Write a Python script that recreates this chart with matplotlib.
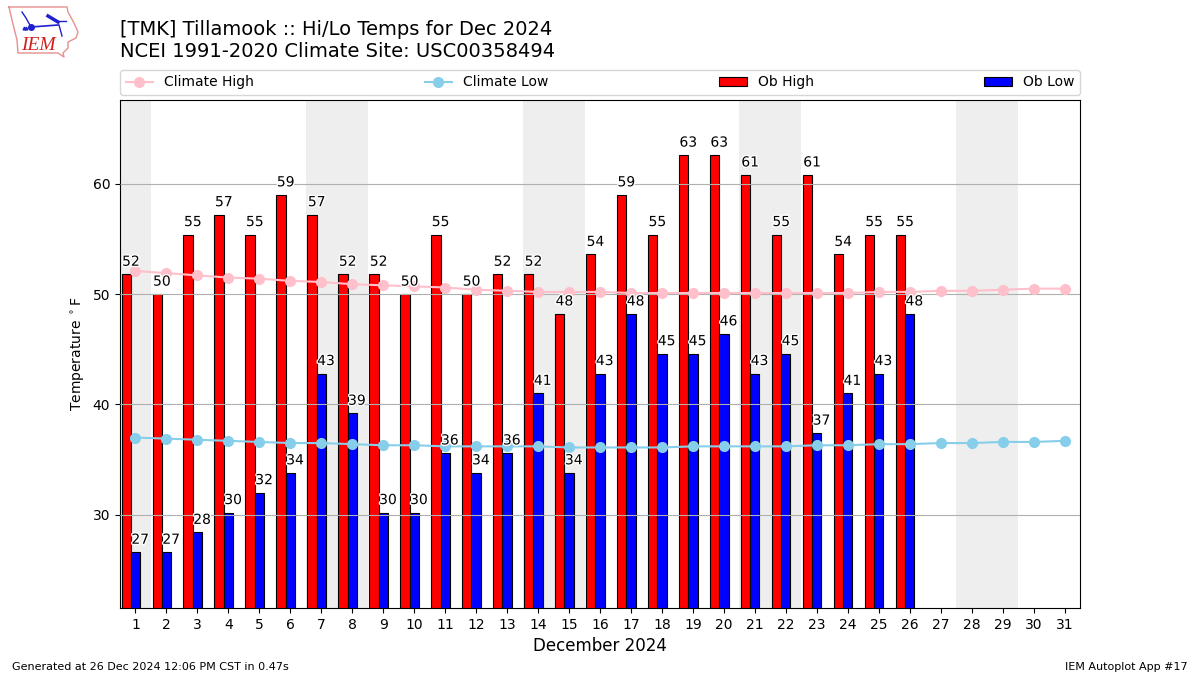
import matplotlib
matplotlib.use('Agg')
import matplotlib.pyplot as plt
import matplotlib.patheffects as pe
import numpy as np

days = np.arange(1, 32)
ob_days = np.arange(1, 27)

climate_high = [52.1, 51.9, 51.7, 51.5, 51.4, 51.2, 51.1, 50.9, 50.8, 50.7, 50.6,
                50.4, 50.3, 50.2, 50.2, 50.2, 50.1, 50.1, 50.1, 50.1, 50.1, 50.1,
                50.1, 50.1, 50.2, 50.2, 50.3, 50.3, 50.4, 50.5, 50.5]
climate_low = [37.0, 36.9, 36.8, 36.7, 36.6, 36.5, 36.5, 36.4, 36.3, 36.3, 36.2,
               36.2, 36.2, 36.2, 36.1, 36.1, 36.1, 36.1, 36.2, 36.2, 36.2, 36.2,
               36.3, 36.3, 36.4, 36.4, 36.5, 36.5, 36.6, 36.6, 36.7]
ob_high = [51.8, 50.0, 55.4, 57.2, 55.4, 59.0, 57.2, 51.8, 51.8, 50.0, 55.4, 50.0, 51.8,
           51.8, 48.2, 53.6, 59.0, 55.4, 62.6, 62.6, 60.8, 55.4, 60.8, 53.6, 55.4, 55.4]
ob_low = [26.6, 26.6, 28.4, 30.2, 32.0, 33.8, 42.8, 39.2, 30.2, 30.2, 35.6, 33.8, 35.6,
          41.0, 33.8, 42.8, 48.2, 44.6, 44.6, 46.4, 42.8, 44.6, 37.4, 41.0, 42.8, 48.2]
weekends = [(0.5, 1.5), (6.5, 8.5), (13.5, 15.5), (20.5, 22.5), (27.5, 29.5)]

fig = plt.figure(figsize=(12, 6.75), dpi=100)
ax = fig.add_axes([0.1, 0.0993, 0.8, 0.7526])

for start, end in weekends:
    ax.axvspan(start, end, color='#eeeeee', lw=0, zorder=0)

ax.bar(ob_days - 0.45, ob_high, width=0.3, align='edge', color='red', edgecolor='black',
       linewidth=0.8, label='Ob High', zorder=2)
ax.bar(ob_days - 0.15, ob_low, width=0.3, align='edge', color='blue', edgecolor='black',
       linewidth=0.8, label='Ob Low', zorder=2)
ax.grid(axis='y', color='#b0b0b0', lw=0.8, zorder=3)
ax.set_axisbelow(False)

ax.plot(days, climate_high, color='pink', marker='o', lw=1.5, ms=7, label='Climate High', zorder=4)
ax.plot(days, climate_low, color='skyblue', marker='o', lw=1.5, ms=7, label='Climate Low', zorder=4)

outline = [pe.withStroke(linewidth=2, foreground='white')]
for d, hi, lo in zip(ob_days, ob_high, ob_low):
    ax.text(d - 0.15, hi + 0.5, f'{hi:.0f}', ha='center', va='bottom', fontsize=10,
            path_effects=outline, zorder=5)
    ax.text(d + 0.15, lo + 0.5, f'{lo:.0f}', ha='center', va='bottom', fontsize=10,
            path_effects=outline, zorder=5)

ax.set_xlim(0.5, 31.5)
ax.set_ylim(21.55, 67.6)
ax.set_xticks(days)
ax.set_yticks([30, 40, 50, 60])
ax.tick_params(labelsize=10)
ax.set_xlabel('December 2024', fontsize=12)
ax.set_ylabel('Temperature $^\\circ$F', fontsize=10)
ax.legend(loc='lower left', bbox_to_anchor=(0, 1.0098, 1, 0.05), mode='expand', ncol=4,
          borderaxespad=0, fontsize=10)

fig.text(0.1, 0.956, '[TMK] Tillamook :: Hi/Lo Temps for Dec 2024', fontsize=14, va='center')
fig.text(0.1, 0.9235, 'NCEI 1991-2020 Climate Site: USC00358494', fontsize=14, va='center')
fig.text(0.01, 0.0075, 'Generated at 26 Dec 2024 12:06 PM CST in 0.47s', fontsize=8)
fig.text(0.99, 0.0075, 'IEM Autoplot App #17', fontsize=8, ha='right')

# logo, drawn in pixel coords
logo = fig.add_axes([0, 0, 1, 1], facecolor='none')
logo.set_xlim(0, 1200)
logo.set_ylim(675, 0)
logo.axis('off')
state_x = [9, 67, 68, 74, 78, 76, 68, 68, 63, 64, 58, 18, 17, 12, 9]
state_y = [7, 7, 12, 23, 32, 38, 42, 48, 53, 57, 53, 53, 40, 20, 7]
logo.plot(state_x, state_y, color='#e89090', lw=1)
logo.plot([31, 58], [27, 25], color='#2020d0', lw=1.2)
logo.plot([31, 26, 22], [27, 18, 12], color='#2020d0', lw=1)
logo.plot([48, 58], [16, 22], color='#2020d0', lw=2.5)
logo.plot([58, 66], [21, 21], color='#2020d0', lw=1)
logo.plot([59, 62], [25, 36], color='#2020d0', lw=1)
logo.plot([31], [27], marker='o', ms=4, color='#2020d0')
logo.plot([24, 26], [28, 28], marker='^', ms=2, lw=0, color='#2020d0')
logo.text(38, 45, 'IEM', color='#d02020', fontsize=14, family='Liberation Serif',
          style='italic', ha='center', va='center')

fig.savefig('out.png', dpi=100)
